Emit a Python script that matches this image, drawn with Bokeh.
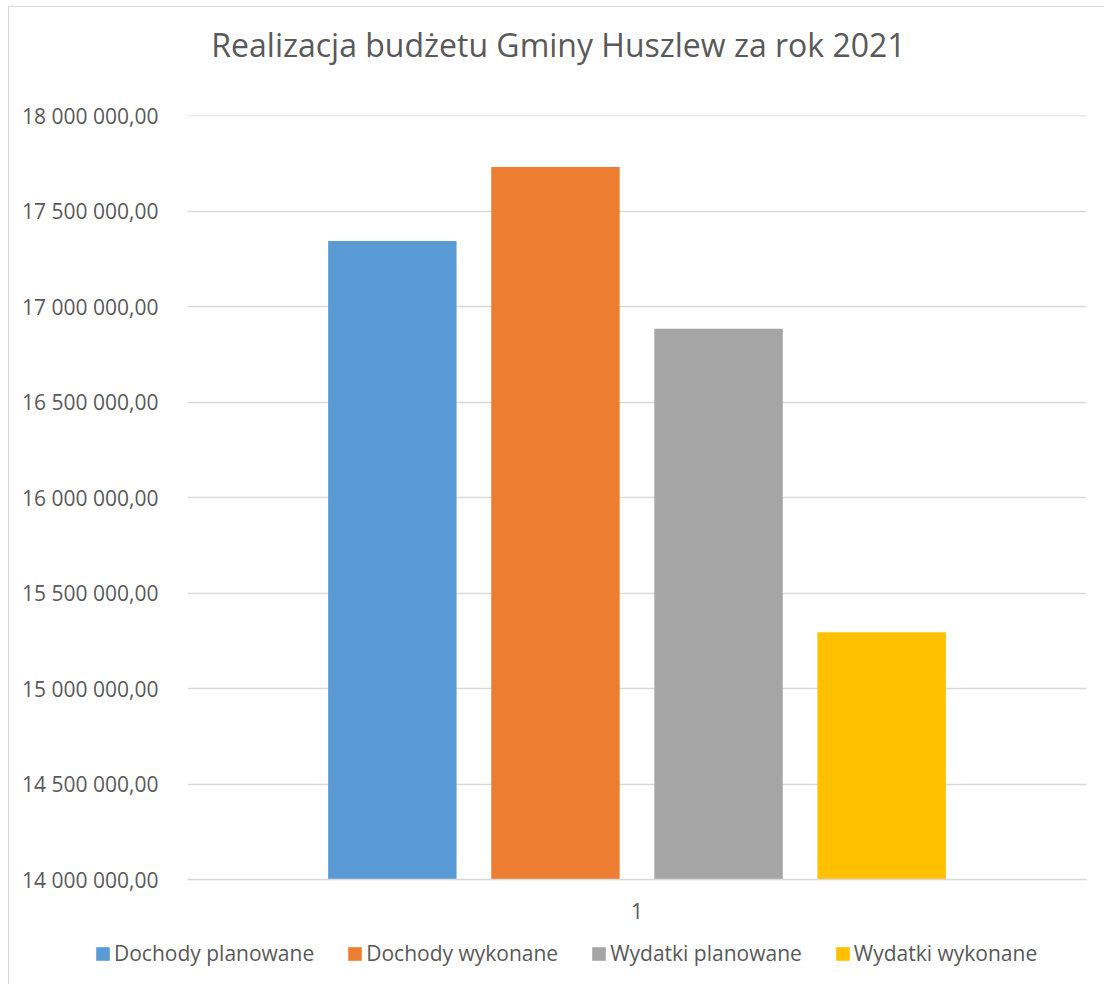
from bokeh.plotting import figure
from bokeh.layouts import column
from bokeh.models import (Range1d, FixedTicker, Legend, LegendItem, Label,
                          ColumnDataSource)
from bokeh.transform import dodge
from bokeh.embed import file_html
from bokeh.resources import INLINE

# ---- data ----
title_text = "Realizacja budżetu Gminy Huszlew za rok 2021"
category = ["1"]
series_names = ["Dochody planowane", "Dochody wykonane", "Wydatki planowane", "Wydatki wykonane"]
series_values = [17344000, 17732000, 16885000, 15295000]
series_colors = ["#5b9bd5", "#ed7d31", "#a5a5a5", "#ffc000"]
y_ticks = [14000000, 14500000, 15000000, 15500000, 16000000, 16500000, 17000000, 17500000, 18000000]
y_tick_labels = ["14 000 000,00", "14 500 000,00", "15 000 000,00", "15 500 000,00",
                 "16 000 000,00", "16 500 000,00", "17 000 000,00", "17 500 000,00",
                 "18 000 000,00"]

FONT = "Open Sans"
TXT = "#595959"
GRID = "#d9d9d9"

W = 1104
H_TOP, H_MAIN, H_LEG = 100, 835, 49      # strips stacked: 100 + 835 + 49 = 984
FL, FR = 187, 1086                         # frame left/right (page px)
FT, FB = 15, 779                           # frame top/bottom inside main strip

# Excel-like clustered column geometry: gap width 219%, overlap -27%
n = len(series_names)
gap, overlap = 2.19, -0.27
bar_w = 1.0 / (n + (n - 1) * (-overlap) + gap)
step = bar_w * (1 - overlap)
offsets = [(i - (n - 1) / 2) * step for i in range(n)]

# ---- title strip ----
tt = figure(width=W, height=H_TOP, output_backend="svg", toolbar_location=None,
            x_range=Range1d(0, W), y_range=Range1d(H_TOP, 0),
            x_axis_location=None, y_axis_location=None, frame_align=False,
            min_border_left=0, min_border_right=0, min_border_top=0, min_border_bottom=0)
tt.grid.visible = False
tt.outline_line_color = None
tt.border_fill_color = None
tt.background_fill_color = None
tt.add_layout(Label(x=558, y=44, text=title_text, text_font=FONT, text_font_size="32px",
                    text_color=TXT, text_align="center", text_baseline="middle"))

# ---- main chart ----
p = figure(width=W, height=H_MAIN, output_backend="svg", toolbar_location=None,
           x_range=Range1d(0.5, 1.5),
           y_range=Range1d(y_ticks[0], y_ticks[-1] + 2000), frame_align=False,
           min_border_left=FL, min_border_right=W - FR, min_border_top=FT,
           min_border_bottom=H_MAIN - FB)
p.outline_line_color = None
p.background_fill_color = None
p.border_fill_color = None

for i, (name, val, col) in enumerate(zip(series_names, series_values, series_colors)):
    src = ColumnDataSource(dict(x=[1.0], top=[val]))
    p.vbar(x=dodge("x", offsets[i]), top="top", bottom=y_ticks[0], width=bar_w,
           source=src, fill_color=col, line_color=None)

p.yaxis.ticker = FixedTicker(ticks=y_ticks)
p.yaxis.major_label_overrides = {t: l for t, l in zip(y_ticks, y_tick_labels)}
p.yaxis.axis_line_color = None
p.yaxis.major_tick_line_color = None
p.yaxis.minor_tick_line_color = None
p.yaxis.major_label_text_font = FONT
p.yaxis.major_label_text_font_size = "21px"
p.yaxis.major_label_text_color = TXT
p.yaxis.major_label_standoff = 23

p.xaxis.ticker = FixedTicker(ticks=[1])
p.xaxis.major_label_overrides = {1: category[0]}
p.xaxis.axis_line_color = GRID
p.xaxis.axis_line_width = 1.5
p.xaxis.major_tick_line_color = None
p.xaxis.minor_tick_line_color = None
p.xaxis.major_label_text_font = FONT
p.xaxis.major_label_text_font_size = "21px"
p.xaxis.major_label_text_color = TXT
p.xaxis.major_label_standoff = 17

p.xgrid.grid_line_color = None
p.ygrid.ticker = FixedTicker(ticks=y_ticks)
p.ygrid.grid_line_color = GRID
p.ygrid.grid_line_width = 1.5

# ---- legend strip ----
lg = figure(width=W, height=H_LEG, output_backend="svg", toolbar_location=None,
            x_range=Range1d(0, 1), y_range=Range1d(0, 1),
            x_axis_location=None, y_axis_location=None, frame_align=False,
            min_border_left=0, min_border_right=0, min_border_top=0, min_border_bottom=0)
lg.grid.visible = False
lg.outline_line_color = None
lg.border_fill_color = None
lg.background_fill_color = None
items = []
for i, (name, val, col) in enumerate(zip(series_names, series_values, series_colors)):
    r = lg.vbar(x=[i], top=[val], width=0.1, fill_color=col, line_color=None, visible=False)
    items.append(LegendItem(label=name, renderers=[r]))
legend = Legend(items=items, orientation="horizontal", location=(94, 17),
                label_text_font=FONT, label_text_font_size="21px",
                label_text_color=TXT, glyph_width=17, glyph_height=17,
                label_standoff=3, spacing=32, padding=0, margin=0,
                border_line_color=None, background_fill_alpha=0)
lg.add_layout(legend, "center")

chart_border = ("linear-gradient(#d9d9d9, #d9d9d9) 8px 6px / 1px 100% no-repeat, "
                "linear-gradient(#d9d9d9, #d9d9d9) 8px 6px / 100% 1px no-repeat, white")
layout = column(tt, p, lg, spacing=0, styles={"background": chart_border})
open("out.html", "w").write(file_html(layout, INLINE))
